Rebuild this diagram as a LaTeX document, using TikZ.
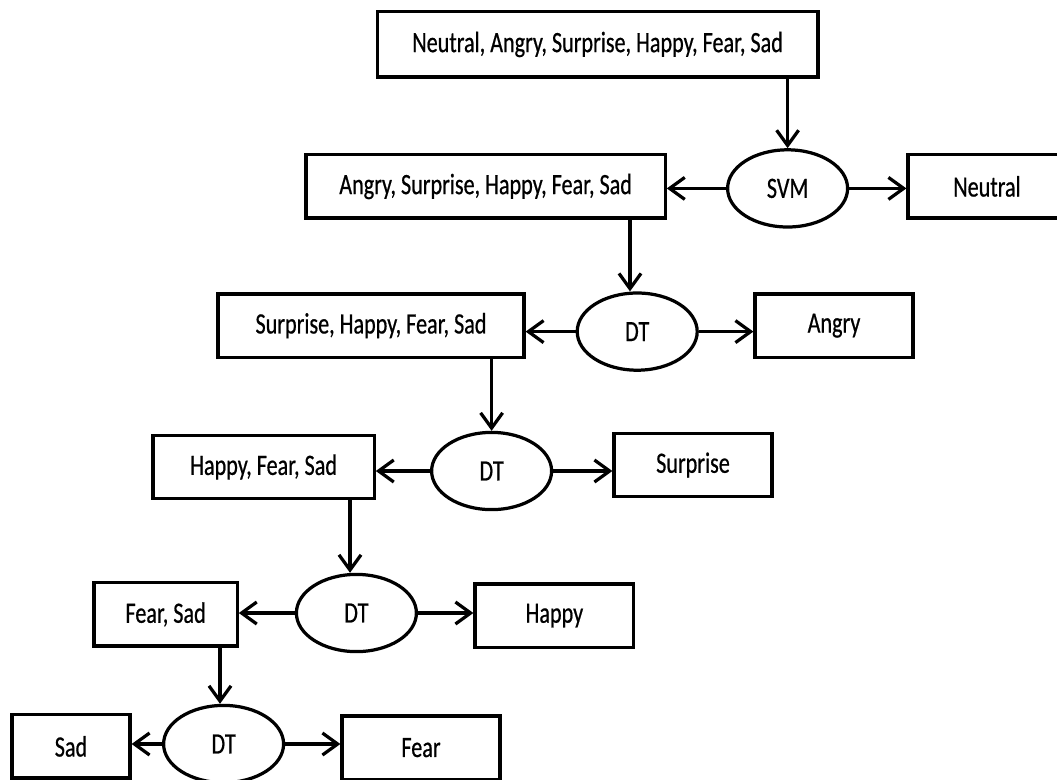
\documentclass[tikz,border=0pt]{standalone}
\usepackage{fontspec}
\setmainfont[FakeStretch=0.75,FakeBold=0.6]{Carlito}
\usetikzlibrary{arrows.meta,shapes.geometric}
\begin{document}
\begin{tikzpicture}[
  box/.style={draw,line width=2.3pt,minimum height=1.58cm,inner sep=0pt,font=\fontsize{21}{24}\selectfont},
  clf/.style={draw,ellipse,line width=2.3pt,minimum width=3cm,minimum height=1.93cm,inner sep=0pt,font=\fontsize{21}{24}\selectfont},
  arr/.style={line width=2.3pt,-{Straight Barb[length=3.8mm,width=5.5mm]}}]
\useasboundingbox (0,0) rectangle (26.425,-19.475);
\node[box,minimum width=11.02cm,minimum height=1.63cm] (all) at (14.94,-1.11) {Neutral, Angry, Surprise, Happy, Fear, Sad};
\node[clf] (svm) at (19.69,-4.71) {SVM};
\node[box,minimum width=8.98cm] (rest1) at (12.14,-4.66) {Angry, Surprise, Happy, Fear, Sad};
\node[box,minimum width=3.95cm] (neutral) at (24.675,-4.66) {Neutral};
\node[clf] (dt1) at (15.93,-8.29) {DT};
\node[box,minimum width=7.65cm] (rest2) at (9.275,-8.14) {Surprise, Happy, Fear, Sad};
\node[box,minimum width=3.95cm] (angry) at (20.85,-8.14) {Angry};
\node[clf] (dt2) at (12.29,-11.775) {DT};
\node[box,minimum width=5.53cm] (rest3) at (6.59,-11.675) {Happy, Fear, Sad};
\node[box,minimum width=3.95cm] (surprise) at (17.325,-11.625) {Surprise};
\node[clf] (dt3) at (8.91,-15.325) {DT};
\node[box,minimum width=3.58cm] (rest4) at (4.14,-15.36) {Fear, Sad};
\node[box,minimum width=3.97cm] (happy) at (13.86,-15.39) {Happy};
\node[clf] (dt4) at (5.59,-18.6) {DT};
\node[box,minimum width=2.95cm] (sad) at (1.775,-18.66) {Sad};
\node[box,minimum width=3.95cm] (fear) at (10.525,-18.69) {Fear};
\draw[arr] (all.south -| svm.north) -- (svm.north);
\draw[arr] (svm.west) -- (svm.west -| rest1.east);
\draw[arr] (svm.east) -- (svm.east -| neutral.west);
\draw[arr] (rest1.south -| 15.75,0) -- (15.75,0 |- dt1.north);
\draw[arr] (dt1.west) -- (dt1.west -| rest2.east);
\draw[arr] (dt1.east) -- (dt1.east -| angry.west);
\draw[arr] (rest2.south -| dt2.north) -- (dt2.north);
\draw[arr] (dt2.west) -- (dt2.west -| rest3.east);
\draw[arr] (dt2.east) -- (dt2.east -| surprise.west);
\draw[arr] (rest3.south -| 8.75,0) -- (8.75,0 |- dt3.north);
\draw[arr] (dt3.west) -- (dt3.west -| rest4.east);
\draw[arr] (dt3.east) -- (dt3.east -| happy.west);
\draw[arr] (rest4.south -| 5.5,0) -- (5.5,0 |- dt4.north);
\draw[arr] (dt4.west) -- (dt4.west -| sad.east);
\draw[arr] (dt4.east) -- (dt4.east -| fear.west);
\end{tikzpicture}
\end{document}
